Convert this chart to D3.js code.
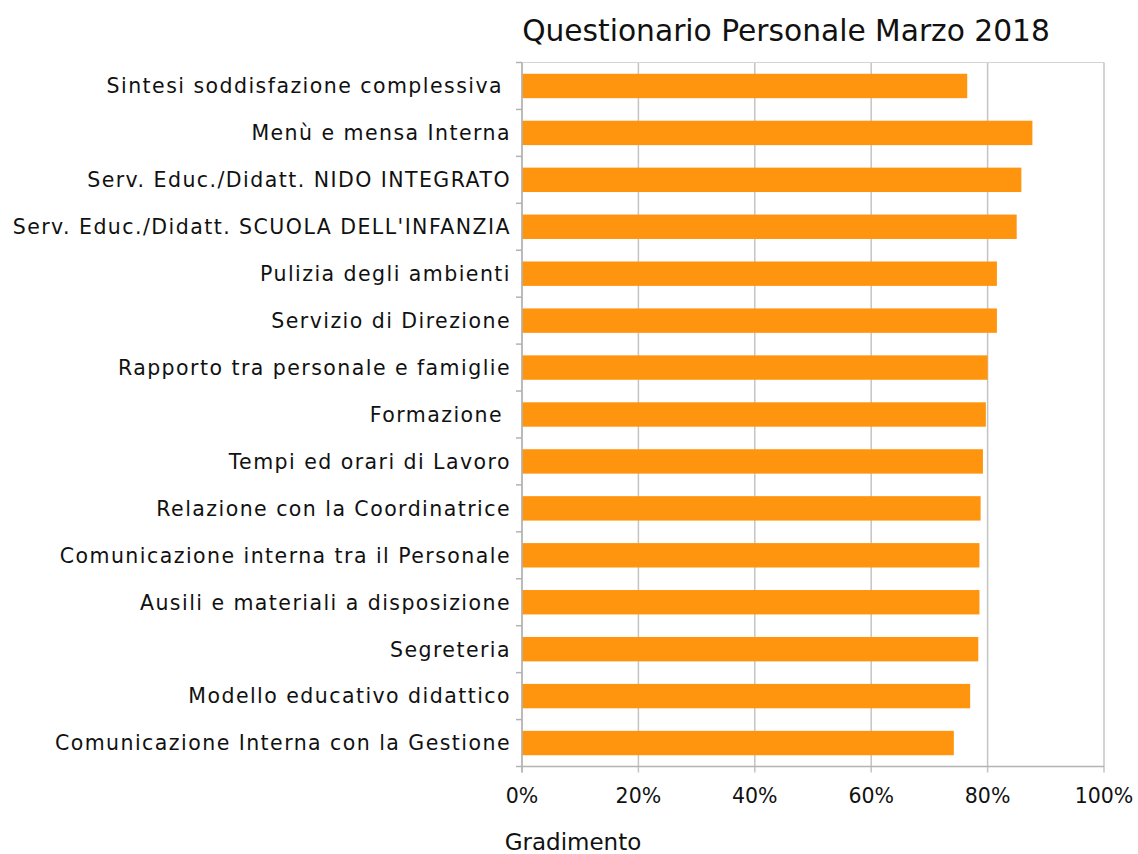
<!DOCTYPE html>
<html>
<head>
<meta charset="utf-8">
<title>Questionario Personale Marzo 2018</title>
<style>
  body { margin: 0; background: #fff; }
  svg text { font-family: "DejaVu Sans", Verdana, sans-serif; fill: #111; white-space: pre; }
</style>
</head>
<body>
<div id="chart"></div>
<script src="https://d3js.org/d3.v7.min.js"></script>
<script>
// data, top to bottom
var categories = [
  "Sintesi soddisfazione complessiva ",
  "Menù e mensa Interna",
  "Serv. Educ./Didatt. NIDO INTEGRATO",
  "Serv. Educ./Didatt. SCUOLA DELL'INFANZIA",
  "Pulizia degli ambienti",
  "Servizio di Direzione",
  "Rapporto tra personale e famiglie",
  "Formazione ",
  "Tempi ed orari di Lavoro",
  "Relazione con la Coordinatrice",
  "Comunicazione interna tra il Personale",
  "Ausili e materiali a disposizione",
  "Segreteria",
  "Modello educativo didattico",
  "Comunicazione Interna con la Gestione"
];
var values = [0.765, 0.877, 0.858, 0.850, 0.816, 0.816, 0.800, 0.797, 0.792, 0.788, 0.786, 0.786, 0.784, 0.770, 0.742];
var xTicks = [0, 0.2, 0.4, 0.6, 0.8, 1];

var W = 1138, H = 854;
var pLeft = 522, pRight = 1104, pTop = 62.5, pBottom = 766.5;

var svg = d3.select("#chart").append("svg")
  .attr("width", W)
  .attr("height", H);

var x = d3.scaleLinear().domain([0, 1]).range([pLeft, pRight]);
var y = d3.scaleBand().domain(categories).range([pTop, pBottom]).paddingInner(0.48).paddingOuter(0.24);
var yb = d3.scaleBand().domain(categories).range([pTop, pBottom]); // full bands for tick marks

// vertical gridlines
svg.append("g").selectAll("line")
  .data(xTicks)
  .join("line")
  .attr("x1", function(d) { return x(d); })
  .attr("x2", function(d) { return x(d); })
  .attr("y1", pTop)
  .attr("y2", pBottom + 6)
  .attr("stroke", "#c4c4c4")
  .attr("stroke-width", 1.5);

// top border line
svg.append("line")
  .attr("x1", pLeft).attr("x2", pRight)
  .attr("y1", pTop).attr("y2", pTop)
  .attr("stroke", "#d4d4d4").attr("stroke-width", 1.2);

// bars
svg.append("g").selectAll("rect")
  .data(values)
  .join("rect")
  .attr("x", x(0))
  .attr("y", function(d, i) { return y(categories[i]); })
  .attr("width", function(d) { return x(d) - x(0); })
  .attr("height", y.bandwidth())
  .attr("fill", "#ff950e");

// left axis line + ticks on band edges
svg.append("line")
  .attr("x1", pLeft).attr("x2", pLeft)
  .attr("y1", pTop).attr("y2", pBottom + 6)
  .attr("stroke", "#b3b3b3").attr("stroke-width", 1.5);

var edges = categories.map(function(c) { return yb(c); }).concat([pBottom]);
svg.append("g").selectAll("line")
  .data(edges)
  .join("line")
  .attr("x1", pLeft - 6).attr("x2", pLeft)
  .attr("y1", function(d) { return d; })
  .attr("y2", function(d) { return d; })
  .attr("stroke", "#b3b3b3").attr("stroke-width", 1.5);

// bottom axis line
svg.append("line")
  .attr("x1", pLeft).attr("x2", pRight)
  .attr("y1", pBottom).attr("y2", pBottom)
  .attr("stroke", "#b3b3b3").attr("stroke-width", 1.5);

// category labels
svg.append("g").selectAll("text")
  .data(categories)
  .join("text")
  .attr("x", pLeft - 11)
  .attr("y", function(d) { return y(d) + y.bandwidth() / 2; })
  .attr("dy", "0.36em")
  .attr("text-anchor", "end")
  .style("font-size", "20.5px")
  .style("letter-spacing", "1.45px")
  .text(function(d) { return d; });

// x tick labels
svg.append("g").selectAll("text")
  .data(xTicks)
  .join("text")
  .attr("x", function(d) { return x(d); })
  .attr("y", 803)
  .attr("text-anchor", "middle")
  .style("font-size", "20.5px")
  .text(d3.format(".0%"));

// title
svg.append("text")
  .attr("x", 786)
  .attr("y", 41)
  .attr("text-anchor", "middle")
  .style("font-size", "29.7px")
  .text("Questionario Personale Marzo 2018");

// axis title
svg.append("text")
  .attr("x", 573)
  .attr("y", 850)
  .attr("text-anchor", "middle")
  .style("font-size", "23px")
  .text("Gradimento");
</script>
</body>
</html>
